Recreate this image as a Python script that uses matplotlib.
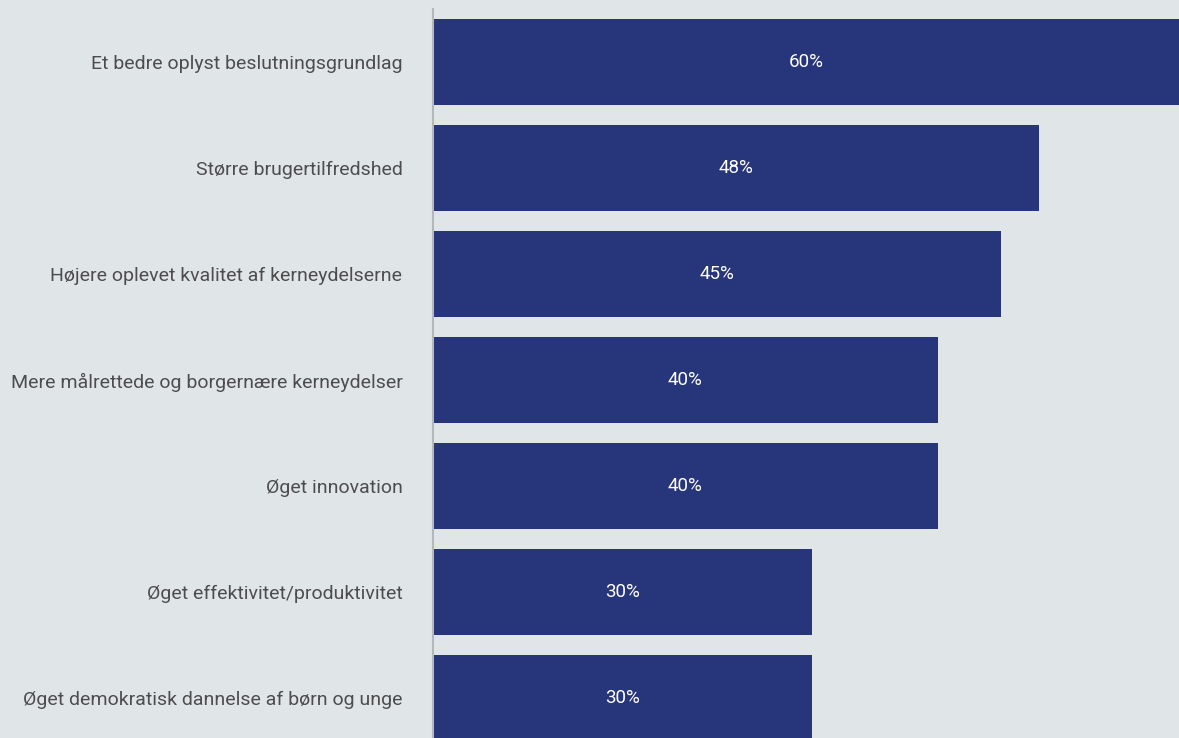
import matplotlib.pyplot as plt

categories = [
    "Et bedre oplyst beslutningsgrundlag",
    "Større brugertilfredshed",
    "Højere oplevet kvalitet af kerneydelserne",
    "Mere målrettede og borgernære kerneydelser",
    "Øget innovation",
    "Øget effektivitet/produktivitet",
    "Øget demokratisk dannelse af børn og unge",
]
values = [60, 48, 45, 40, 40, 30, 30]

BG = "#e0e5e8"
BAR = "#27357b"
XMAX = 59.1

plt.rcParams["font.family"] = ["Roboto", "DejaVu Sans"]

fig = plt.figure(figsize=(11.79, 7.38), dpi=100, facecolor=BG)
ax = fig.add_axes([433 / 1179, 0, 746 / 1179, 729 / 738])
ax.set_facecolor(BG)

y = list(range(len(categories)))
ax.barh(y, values, height=0.81, color=BAR, left=0)

for i, v in enumerate(values):
    ax.text(min(v, XMAX) / 2, i, "{}%".format(v), color="white",
            ha="center", va="center", fontsize=13.5)

ax.set_xlim(0, XMAX)
ax.set_ylim(6.377, -0.5)
ax.set_yticks(y)
ax.set_yticklabels(categories, fontsize=14, color="#4d4d4d")
ax.tick_params(axis="y", length=0, pad=22)
ax.set_xticks([])

for s in ["top", "right", "bottom"]:
    ax.spines[s].set_visible(False)
ax.spines["left"].set_color("#b5b8bb")
ax.spines["left"].set_linewidth(1.5)

fig.savefig("out.png", dpi=100, facecolor=BG)
